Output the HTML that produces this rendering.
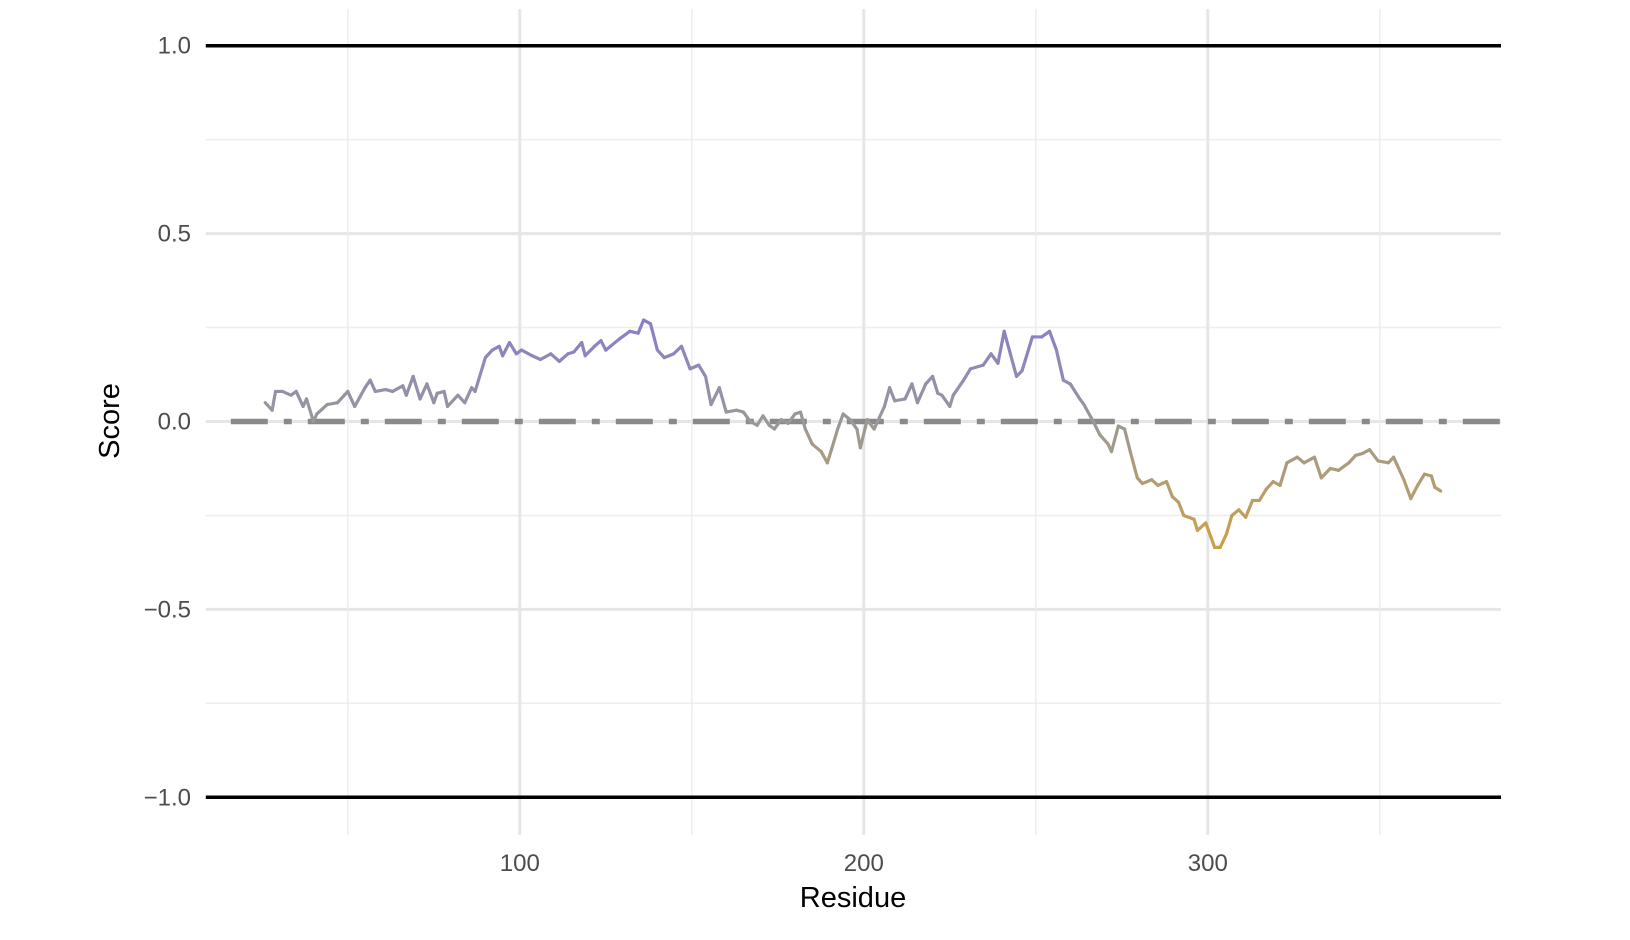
<!DOCTYPE html>
<html><head><meta charset="utf-8"><style>
html,body{margin:0;padding:0;background:#fff;}
svg{display:block;font-family:"Liberation Sans",sans-serif;}
</style></head><body>
<svg id="chart" width="1630" height="940" xmlns="http://www.w3.org/2000/svg">
<g id="grid"></g>
<g id="refs"></g>
<g id="series"></g>
<g id="axes"></g>
</svg>
<script>
const residues=[26,28,29,31,33.5,35,37,38,40,41,44,47,49,50,52,55,56.5,58,61,63,66,67,69,71,73,75,76,78,79,82,84,86,87,90,92,94,95,97,99,100.5,103.6,106,109,111.5,114,115.7,118,119,121.7,123.6,125,129,132,134.4,136,138,140,142,144.7,147,149.5,152,154,155.6,158,160,163,165,167,169,170.7,172.5,174,176,178,180,181.6,183,185,187.6,189.4,190.6,192.4,194,196,198,199,201,203,204.5,206,207.5,209,212,214,215.6,218,220,221.5,222.7,225,226,229,231,234.7,237,239,240.8,242.6,244.4,246,247,249,251.7,254,256,258,260,262.8,264,266.7,268.6,271,272,274,275.8,277.6,279.5,281,283.7,285.5,288,289.7,291.5,293,296,297,299.4,302,303.6,305.4,307,309,311,313,315,317,319,321,323,326,328,331,333,335.6,338,341,343,345,347,349.5,352.5,354,357,359,361,363,365,366,367.7];
const scores=[0.05,0.03,0.08,0.08,0.07,0.08,0.04,0.06,0.0,0.02,0.045,0.05,0.07,0.08,0.04,0.09,0.11,0.08,0.085,0.08,0.095,0.07,0.12,0.06,0.1,0.05,0.075,0.08,0.04,0.07,0.05,0.09,0.08,0.17,0.19,0.2,0.175,0.21,0.18,0.19,0.175,0.165,0.18,0.16,0.18,0.185,0.21,0.175,0.2,0.215,0.19,0.22,0.24,0.235,0.27,0.26,0.19,0.17,0.18,0.2,0.14,0.15,0.12,0.045,0.09,0.025,0.03,0.025,0.0,-0.01,0.015,-0.01,-0.02,0.005,-0.005,0.02,0.025,-0.02,-0.06,-0.08,-0.11,-0.075,-0.02,0.02,0.005,-0.02,-0.07,0.005,-0.02,0.01,0.04,0.09,0.055,0.06,0.1,0.05,0.1,0.12,0.075,0.07,0.04,0.07,0.11,0.14,0.15,0.18,0.155,0.24,0.18,0.12,0.135,0.165,0.225,0.225,0.24,0.19,0.11,0.1,0.06,0.045,0.0,-0.035,-0.06,-0.08,-0.012,-0.02,-0.085,-0.15,-0.165,-0.155,-0.17,-0.16,-0.2,-0.215,-0.25,-0.26,-0.29,-0.27,-0.335,-0.335,-0.3,-0.25,-0.235,-0.255,-0.21,-0.21,-0.18,-0.16,-0.17,-0.11,-0.095,-0.11,-0.095,-0.15,-0.125,-0.13,-0.11,-0.09,-0.085,-0.075,-0.105,-0.11,-0.095,-0.155,-0.205,-0.17,-0.14,-0.145,-0.175,-0.185];
const yTicks=[1.0,0.5,0.0,-0.5,-1.0];
const yTickLabels=["1.0","0.5","0.0","\u22120.5","\u22121.0"];
const yMinor=[0.75,0.25,-0.25,-0.75];
const xTicks=[100,200,300];
const xMinor=[50,150,250,350];

const NS="http://www.w3.org/2000/svg";
const X0=205.8,X1=1501;
const x=r=>519.8+(r-100)*3.44;
const y=s=>421.5-s*375.8;
function mk(tag,parent,attrs){const e=document.createElementNS(NS,tag);for(const k in attrs)e.setAttribute(k,attrs[k]);parent.appendChild(e);return e;}
const grid=document.getElementById('grid'),refs=document.getElementById('refs'),series=document.getElementById('series'),axes=document.getElementById('axes');

yMinor.forEach(v=>{const l=mk('line',grid,{x1:X0,x2:X1,y1:y(v),y2:y(v),stroke:'#ededed','stroke-width':1.5});

});
yTicks.forEach(v=>{const l=mk('line',grid,{x1:X0,x2:X1,y1:y(v),y2:y(v),stroke:'#e6e6e6','stroke-width':3});

});
xMinor.forEach(v=>{const l=mk('line',grid,{x1:x(v),x2:x(v),y1:9,y2:835,stroke:'#ededed','stroke-width':1.5});

});
xTicks.forEach(v=>{const l=mk('line',grid,{x1:x(v),x2:x(v),y1:9,y2:835,stroke:'#e6e6e6','stroke-width':3});

});

[1,-1].forEach(v=>{const l=mk('line',refs,{x1:X0,x2:X1,y1:y(v),y2:y(v),stroke:'#000','stroke-width':3.5});

});
const z=mk('line',refs,{x1:X0+25,x2:X1,y1:y(0),y2:y(0),stroke:'#8a8a8a','stroke-width':5.5,'stroke-dasharray':'37 16 8 16'});



function col(s){
  const g=[153,153,153],p=[140,125,200],o=[200,160,80];
  let t,c;
  if(s>=0){t=Math.min(s/0.25,1);c=p;}else{t=Math.min(-s/0.3,1);c=o;}
  const m=g.map((v,i)=>Math.round(v+(c[i]-v)*t));
  return 'rgb('+m.join(',')+')';
}
for(let i=0;i<residues.length-1;i++){
  const seg=mk('line',series,{x1:x(residues[i]),y1:y(scores[i]),x2:x(residues[i+1]),y2:y(scores[i+1]),stroke:col((scores[i]+scores[i+1])/2),'stroke-width':3.2,'stroke-linecap':'round'});
  
  
}

yTicks.forEach((v,i)=>{const t=mk('text',axes,{x:191,y:y(v)+8,'text-anchor':'end','font-size':24,fill:'#4d4d4d'});t.textContent=yTickLabels[i];

});
xTicks.forEach(v=>{const t=mk('text',axes,{x:x(v),y:871,'text-anchor':'middle','font-size':24,fill:'#4d4d4d'});t.textContent=String(v);

});
const xt=mk('text',axes,{x:853,y:907,'text-anchor':'middle','font-size':29,fill:'#000'});xt.textContent='Residue';


const yt=mk('text',axes,{x:0,y:0,'text-anchor':'middle','font-size':29,fill:'#000',transform:'translate(119,421) rotate(-90)'});yt.textContent='Score';


</script>
</body></html>
